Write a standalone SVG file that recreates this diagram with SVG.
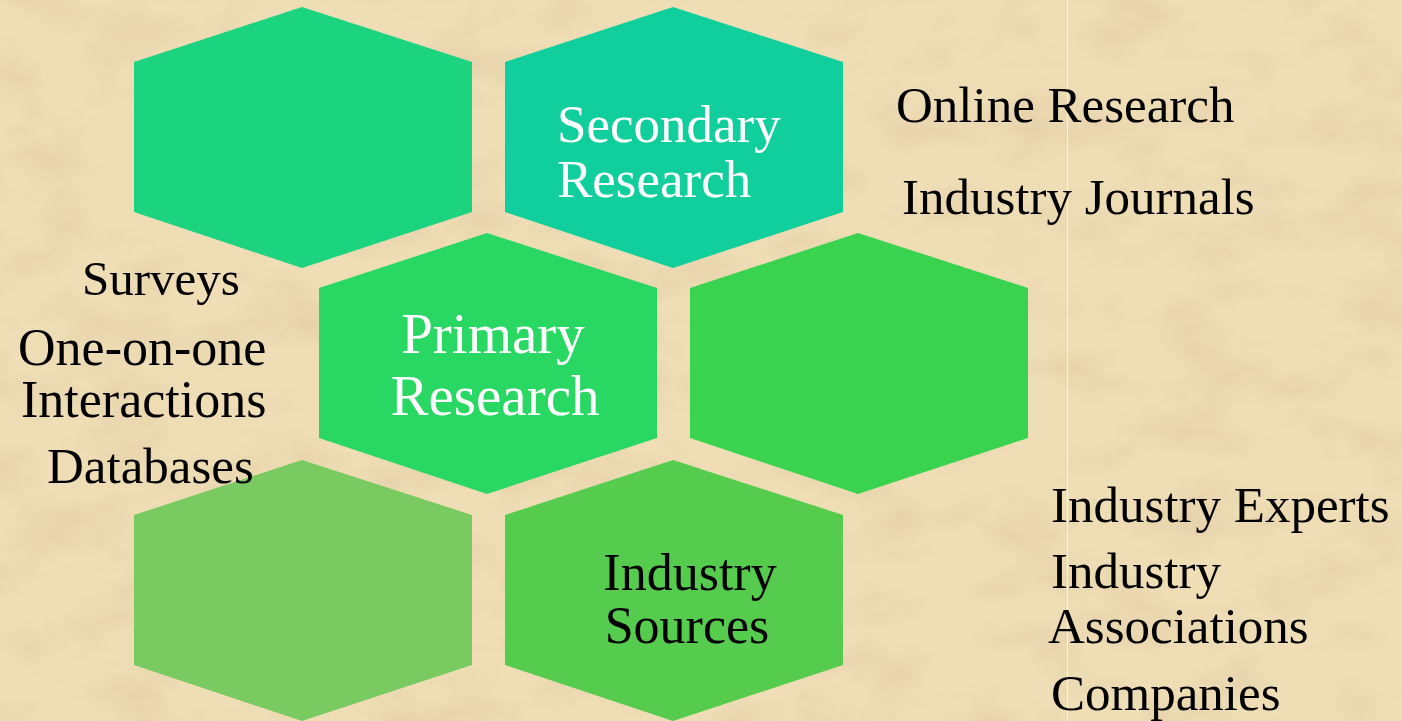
<svg xmlns="http://www.w3.org/2000/svg" width="1402" height="721" viewBox="0 0 1402 721">
  <defs>
    <filter id="parch" x="0" y="0" width="100%" height="100%">
      <feTurbulence type="fractalNoise" baseFrequency="0.012 0.02" numOctaves="4" seed="7" result="n"/>
      <feColorMatrix in="n" type="matrix" values="0 0 0 0 0.72  0 0 0 0 0.58  0 0 0 0 0.36  0 0 0 1.8 -0.78" result="c"/>
      <feComposite in="c" in2="SourceGraphic" operator="in"/>
    </filter>
    <polygon id="hex" points="0,55 168,0 338,55 338,205 168,261 0,205"/>
    <style>
      .t { font-family: "Liberation Serif", "Times New Roman", serif; fill: #000000; }
      .w { font-family: "Liberation Serif", "Times New Roman", serif; fill: #ffffff; }
    </style>
  </defs>

  <g id="background">
    <rect x="0" y="0" width="1402" height="721" fill="#EFDDB6"/>
    <rect x="0" y="0" width="1402" height="721" fill="#fff" filter="url(#parch)" opacity="0.6"/>
    <line x1="1067.5" y1="0" x2="1067.5" y2="721" stroke="#ffffff" stroke-width="1" opacity="0.7"/>
  </g>

  <g id="connectors"></g>

  <g id="hex-top-left">
    <use href="#hex" x="134" y="7" fill="#1CD380"/>
  </g>
  <g id="hex-secondary">
    <use href="#hex" x="505" y="7" fill="#11CE9D"/>
    <text class="w" x="557" y="142" font-size="53">Secondary</text>
    <text class="w" x="557" y="197" font-size="53">Research</text>
  </g>
  <g id="hex-primary">
    <use href="#hex" x="319" y="233" fill="#28D863"/>
    <text class="w" x="493" y="353" font-size="57" text-anchor="middle">Primary</text>
    <text class="w" x="495" y="415" font-size="57" text-anchor="middle">Research</text>
  </g>
  <g id="hex-mid-right">
    <use href="#hex" x="690" y="233" fill="#3AD350"/>
  </g>
  <g id="hex-bottom-left">
    <use href="#hex" x="134" y="460" fill="#7ACA62"/>
  </g>
  <g id="hex-industry-sources">
    <use href="#hex" x="505" y="460" fill="#55CC4E"/>
    <text class="t" x="690" y="590" font-size="52" text-anchor="middle">Industry</text>
    <text class="t" x="687" y="643" font-size="52" text-anchor="middle">Sources</text>
  </g>

  <g id="primary-items">
    <text class="t" x="82" y="295" font-size="49">Surveys</text>
    <text class="t" x="18" y="365" font-size="52">One-on-one</text>
    <text class="t" x="21" y="417" font-size="52">Interactions</text>
    <text class="t" x="47" y="483" font-size="51">Databases</text>
  </g>

  <g id="secondary-items">
    <text class="t" x="896" y="122" font-size="51">Online Research</text>
    <text class="t" x="902" y="214" font-size="51">Industry Journals</text>
  </g>

  <g id="industry-items">
    <text class="t" x="1051" y="522" font-size="51">Industry Experts</text>
    <text class="t" x="1051" y="588" font-size="51">Industry</text>
    <text class="t" x="1048" y="643" font-size="51">Associations</text>
    <text class="t" x="1051" y="710" font-size="51">Companies</text>
  </g>
</svg>
